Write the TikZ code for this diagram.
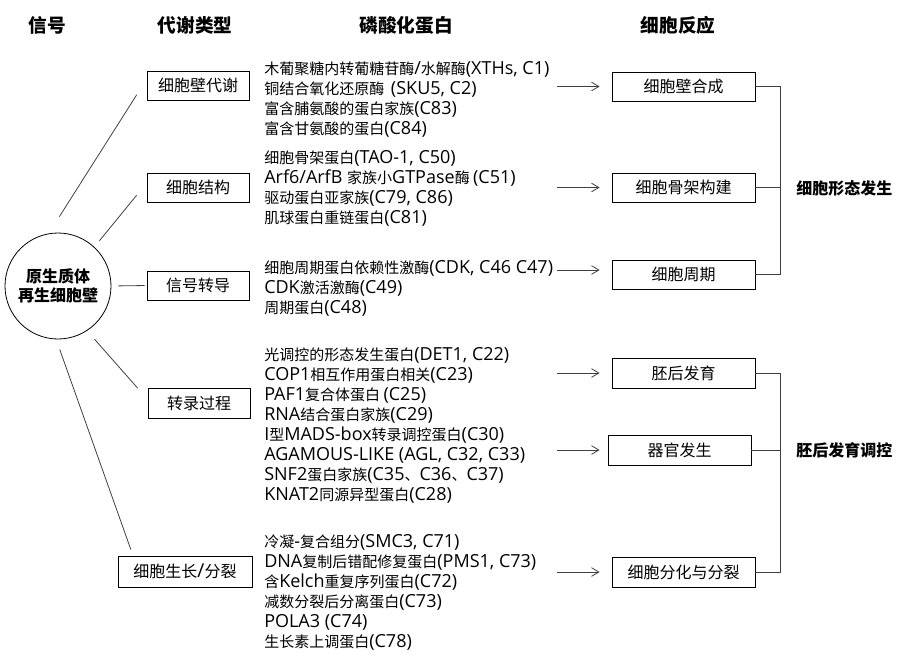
\documentclass[tikz,border=0pt]{standalone}
\usepackage{fontspec}
\setmainfont[Scale=1.2]{Open Sans}
\newfontfamily\latinfont[Scale=1.2]{Open Sans}
\newfontfamily\cjkfont{Noto Sans CJK SC}
\usetikzlibrary{arrows.meta}
% switch to the CJK font for Han characters
\newXeTeXintercharclass\cjkclass
\newcount\cjkcode
\cjkcode="3000
\loop
  \XeTeXcharclass\cjkcode=\cjkclass
  \advance\cjkcode by 1
\ifnum\cjkcode<"A000 \repeat
\XeTeXinterchartoks 0 \cjkclass = {\cjkfont}
\XeTeXinterchartoks 4095 \cjkclass = {\cjkfont}
\XeTeXinterchartoks \cjkclass 0 = {\latinfont}
\XeTeXinterchartoks 4095 0 = {\latinfont}
\XeTeXinterchartokenstate=1

\begin{document}
\begin{tikzpicture}[x=0.75pt, y=-0.75pt,
    head/.style={font=\fontsize{14pt}{16pt}\selectfont\bfseries},
    type/.style={draw, line width=0.6pt, inner sep=0pt, minimum width=76.5pt,
        minimum height=21.75pt, font=\fontsize{12pt}{14pt}\selectfont},
    resp/.style={type, minimum width=107.25pt},
    prot/.style={anchor=west, align=left, inner sep=0pt,
        font=\fontsize{11.25pt}{15pt}\selectfont},
    group/.style={anchor=west, inner sep=0pt, font=\fontsize{12pt}{14pt}\selectfont\bfseries},
    link/.style={black!75, line width=0.6pt},
    >={Straight Barb[length=5.5pt, width=6.5pt]}]
\useasboundingbox (0,0) rectangle (903,654);
% column heads
\node[head] (hsig) at (47,25) {信号};
\node[head] (htype) at (195,25) {代谢类型};
\node[head] (hprot) at (406,25) {磷酸化蛋白};
\node[head] (hresp) at (678,25) {细胞反应};
% signal
\node[draw, circle, line width=0.6pt, minimum size=79.5pt, inner sep=0pt, align=center,
    font=\fontsize{12pt}{14.25pt}\selectfont\bfseries] (sig) at (58,286) {原生质体\\再生细胞壁};
% metabolism types
\node[type] (wallmeta) at (198,85.5) {细胞壁代谢};
\node[type] (struct) at (198,187.5) {细胞结构};
\node[type] (signal) at (198,285.5) {信号转导};
\node[type, minimum height=22.5pt] (transc) at (199,403) {转录过程};
\node[type, minimum width=100.5pt, minimum height=23.25pt] (growth) at (185,571.5) {细胞生长/分裂};
\draw[link, shorten <=14.9pt, shorten >=13.9pt] (sig.100) -- (wallmeta.173);
\draw[link, shorten <=5.9pt, shorten >=11.8pt] (sig.47) -- (struct.175);
\draw[link, shorten <=5.25pt, shorten >=1.5pt] (sig.east) -- (signal.west);
\draw[link, shorten <=8.4pt, shorten >=11.2pt] (sig.-57) -- (transc.176);
\draw[link, shorten <=8pt, shorten >=4.8pt] (sig.-92) -- (growth.163);
% phosphoproteins
\node[prot] (pwall) at (264,99) {木葡聚糖内转葡糖苷酶/水解酶(XTHs, C1)\\
    铜结合氧化还原酶~~(SKU5, C2)\\富含脯氨酸的蛋白家族(C83)\\富含甘氨酸的蛋白(C84)};
\node[prot] (pstruct) at (264,188) {细胞骨架蛋白(TAO-1, C50)\\
    Arf6/ArfB 家族小GTPase酶 (C51)\\驱动蛋白亚家族(C79, C86)\\肌球蛋白重链蛋白(C81)};
\node[prot] (psignal) at (264,288) {细胞周期蛋白依赖性激酶(CDK, C46 C47)\\
    CDK激活激酶(C49)\\周期蛋白(C48)};
\node[prot] (ptransc) at (264,425) {光调控的形态发生蛋白(DET1, C22)\\
    COP1相互作用蛋白相关(C23)\\PAF1复合体蛋白 (C25)\\RNA结合蛋白家族(C29)\\
    I型MADS-box转录调控蛋白(C30)\\AGAMOUS-LIKE (AGL, C32, C33)\\
    SNF2蛋白家族(C35、C36、C37)\\KNAT2同源异型蛋白(C28)};
\node[prot] (pgrowth) at (264,592) {冷凝-复合组分(SMC3, C71)\\
    DNA复制后错配修复蛋白(PMS1, C73)\\含Kelch重复序列蛋白(C72)\\
    减数分裂后分离蛋白(C73)\\POLA3 (C74)\\生长素上调蛋白(C78)};
% cell responses
\node[resp] (rwall) at (683.5,86.5) {细胞壁合成};
\node[resp] (rcyto) at (683.5,187.5) {细胞骨架构建};
\node[resp] (rcycle) at (683.5,274.5) {细胞周期};
\node[resp, minimum height=22.5pt] (rpost) at (683.5,373) {胚后发育};
\node[resp, minimum height=22.5pt] (rorgan) at (679.5,450) {器官发生};
\node[resp, minimum height=22.5pt] (rdiv) at (683.5,572) {细胞分化与分裂};
\coordinate (awall) at (557,86.5);
\coordinate (acyto) at (557,187.5);
\coordinate (acycle) at (557,270);
\coordinate (apost) at (557,373);
\coordinate (aorgan) at (557,450);
\coordinate (adiv) at (557,572);
\draw[link, ->, shorten >=9pt] (awall) -- (rwall);
\draw[link, ->, shorten >=9pt] (acyto) -- (rcyto);
\draw[link, ->, shorten >=9pt] (acycle) -- (rcycle.west |- acycle);
\draw[link, ->, shorten >=9pt] (apost) -- (rpost);
\draw[link, ->, shorten >=6pt] (aorgan) -- (rorgan);
\draw[link, ->, shorten >=9pt] (adiv) -- (rdiv);
% groups
\node[group] (morph) at (796,188) {细胞形态发生};
\node[group] (postdev) at (796,450) {胚后发育调控};
\draw[link] (rwall.east) -- ++(25,0) coordinate (bmorph) |- (rcycle.east);
\draw[link] (rcyto.east) -- (rcyto.east -| bmorph);
\draw[link] (rpost.east) -- ++(25,0) coordinate (bpost) |- (rdiv.east);
\draw[link] (rorgan.east) -- (rorgan.east -| bpost);
\end{tikzpicture}
\end{document}
